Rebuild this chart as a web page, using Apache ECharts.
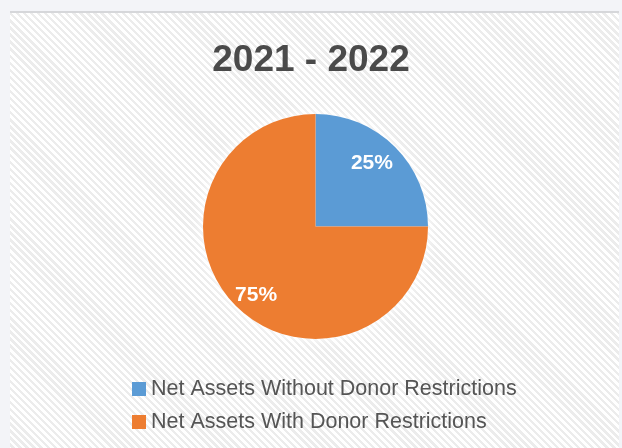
<!DOCTYPE html>
<html>
<head>
<meta charset="utf-8">
<script src="https://cdn.jsdelivr.net/npm/echarts@6/dist/echarts.min.js"></script>
<style>
html,body{margin:0;padding:0;width:622px;height:448px;background:#f3f4f8;overflow:hidden;}
#panel{position:absolute;left:10px;top:11px;width:609px;height:437px;border-top:2px solid #d6d7da;
background:repeating-linear-gradient(45deg,#ffffff 0px,#ffffff 2.6px,#ececec 2.6px,#ececec 5px);}
#chart{position:absolute;left:0;top:0;width:622px;height:448px;}
</style>
</head>
<body>
<div id="panel"></div>
<div id="chart"></div>
<script>
const titleText = "2021 - 2022";
const categories = ["Net Assets Without Donor Restrictions", "Net Assets With Donor Restrictions"];
const values = [25, 75];
const colors = ["#5b9bd5", "#ed7d31"];
const labelOffsets = [[-6, -1], [3, 6]];

const chart = echarts.init(document.getElementById('chart'), null, {renderer: 'canvas'});
const data = categories.map((c, i) => ({name: c, value: values[i], itemStyle: {color: colors[i]}}));
const C = [315.5, 226.5];
chart.setOption({
  backgroundColor: 'transparent',
  animation: false,
  title: {
    text: titleText, left: 'center', top: 37,
    textStyle: {fontSize: 37, fontWeight: 'bold', color: '#4a4a4a', fontFamily: 'Liberation Sans'}
  },
  legend: {
    orient: 'vertical', left: 127, top: 373,
    itemWidth: 14, itemHeight: 14, itemGap: 11, icon: 'rect',
    data: categories,
    textStyle: {fontSize: 21.5, color: '#555', fontFamily: 'Liberation Sans'}
  },
  series: [
    {
      type: 'pie', center: C, radius: [0, 112], silent: true, legendHoverLink: false,
      data: [{name: 'glow', value: 1, itemStyle: {color: '#ffffff', shadowBlur: 14, shadowColor: 'rgba(255,255,255,1)'}}],
      label: {show: false}, labelLine: {show: false}, emphasis: {disabled: true}
    },
    {
      type: 'pie', center: C, radius: [0, 112.5], startAngle: 90, clockwise: true,
      data: data, label: {show: false}, labelLine: {show: false},
      emphasis: {disabled: true}
    },
    {
      type: 'pie', center: C, radius: [58, 112.5], startAngle: 90, clockwise: true,
      silent: true, legendHoverLink: false,
      data: categories.map((c, i) => ({name: c, value: values[i], itemStyle: {color: 'rgba(0,0,0,0)'}, label: {offset: labelOffsets[i]}})),
      label: {show: true, position: 'inside', formatter: '{d}%', color: '#fff', fontSize: 21, fontWeight: 'bold', fontFamily: 'Liberation Sans'},
      labelLine: {show: false},
      emphasis: {disabled: true}
    }
  ]
});
</script>
</body>
</html>
